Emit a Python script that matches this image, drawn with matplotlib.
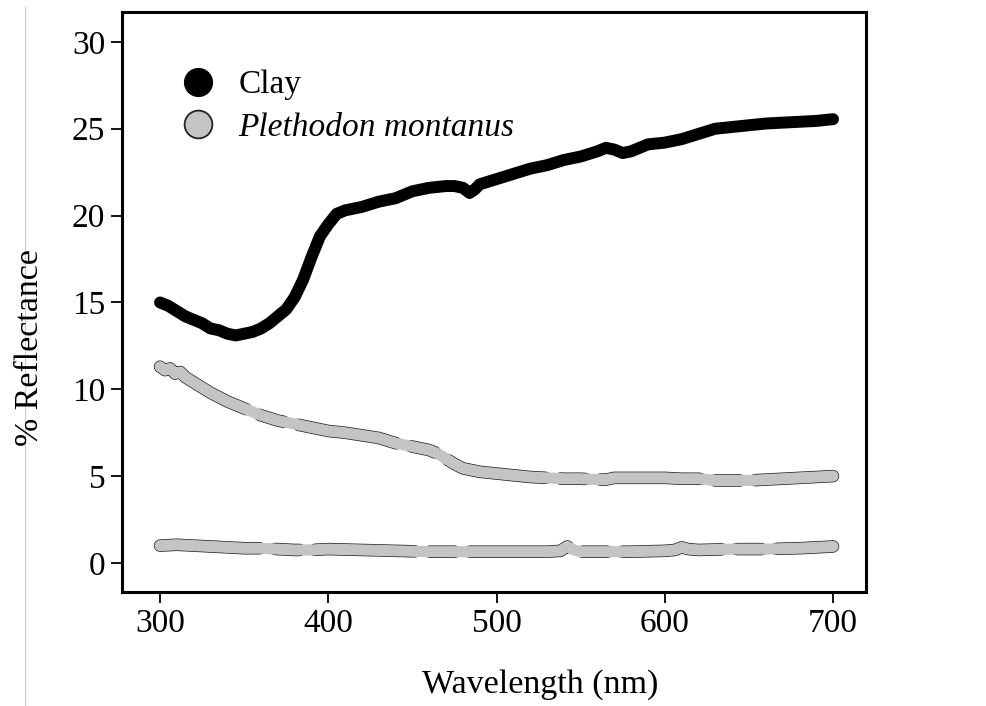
import matplotlib
matplotlib.use("Agg")
import matplotlib.pyplot as plt
from matplotlib.lines import Line2D

plt.rcParams['font.family'] = ['Liberation Serif', 'DejaVu Serif']

clay_nm = [300,305,310,315,320,325,330,335,340,345,350,355,360,365,370,375,380,385,390,395,400,405,410,415,420,430,440,450,460,470,475,480,484,487,490,500,510,520,530,540,550,560,565,570,575,580,590,600,610,620,630,640,650,660,670,680,690,700]
clay = [15.0,14.8,14.5,14.2,14.0,13.8,13.5,13.4,13.2,13.1,13.2,13.3,13.5,13.8,14.2,14.6,15.3,16.3,17.6,18.8,19.5,20.1,20.3,20.4,20.5,20.8,21.0,21.4,21.6,21.7,21.7,21.6,21.3,21.5,21.8,22.1,22.4,22.7,22.9,23.2,23.4,23.7,23.9,23.8,23.6,23.7,24.1,24.2,24.4,24.7,25.0,25.1,25.2,25.3,25.35,25.4,25.45,25.55]

pm1_nm = [300,303,306,309,312,315,320,325,330,340,350,360,370,380,390,400,410,420,430,440,450,455,460,465,470,475,480,490,500,510,520,530,540,550,560,565,570,580,590,600,610,620,630,640,650,660,670,680,690,700]
pm1 = [11.3,11.1,11.2,10.9,11.0,10.7,10.4,10.1,9.8,9.3,8.9,8.5,8.2,8.0,7.8,7.6,7.5,7.35,7.2,6.9,6.7,6.6,6.5,6.3,6.0,5.7,5.45,5.25,5.15,5.05,4.95,4.9,4.85,4.85,4.8,4.8,4.9,4.9,4.9,4.9,4.85,4.85,4.75,4.75,4.75,4.8,4.85,4.9,4.95,5.0]

pm2_nm = [300,310,320,330,340,350,360,370,380,390,400,420,440,460,480,500,520,530,538,542,546,550,560,580,600,606,610,614,620,640,660,680,700]
pm2 = [1.0,1.05,1.0,0.95,0.9,0.85,0.85,0.8,0.75,0.75,0.8,0.75,0.7,0.65,0.65,0.65,0.65,0.65,0.7,0.95,0.75,0.65,0.65,0.65,0.7,0.75,0.9,0.8,0.75,0.8,0.8,0.85,0.95]

legend_labels = ["Clay", "Plethodon montanus"]
x_ticks = [300, 400, 500, 600, 700]
y_ticks = [0, 5, 10, 15, 20, 25, 30]

fig = plt.figure(figsize=(9.87, 7.06), dpi=100)
ax = fig.add_axes([122/987, 1-592/706, (866-122)/987, (592-12)/706])

gray = '#c4c4c4'
ax.plot(clay_nm, clay, color='black', lw=8.6, solid_capstyle='round', solid_joinstyle='round', zorder=3)
for xs, ys in [(pm1_nm, pm1), (pm2_nm, pm2)]:
    ax.plot(xs, ys, color='#1a1a1a', lw=9.0, linestyle=(0, (8, 1.2, 2, 1.2)),
            dash_capstyle='round', solid_capstyle='round', zorder=2)
    ax.plot(xs, ys, color=gray, lw=8.0, solid_capstyle='round', solid_joinstyle='round', zorder=2.5)

ax.set_xlim(277.4, 719.6)
ax.set_ylim(-1.67, 31.72)
ax.set_xticks(x_ticks)
ax.set_yticks(y_ticks)
ax.tick_params(labelsize=24, length=8, width=1.3, direction='out', pad=4)
for s in ax.spines.values():
    s.set_linewidth(2.2)

handles = [
    Line2D([], [], marker='o', ls='none', markersize=20, markerfacecolor='black', markeredgecolor='black'),
    Line2D([], [], marker='o', ls='none', markersize=20, markerfacecolor=gray, markeredgecolor='#222222', markeredgewidth=1.3),
]
leg = ax.legend(handles, legend_labels, loc='upper left', bbox_to_anchor=(0.058, 0.923),
                frameon=False, fontsize=24, handlelength=1.2, handletextpad=0.6,
                labelspacing=0.36, borderaxespad=0)
leg.get_texts()[1].set_style('italic')

fig.text(540/987, 1-685/706, "Wavelength (nm)", ha='center', va='center', fontsize=24.5)
fig.text(30/987, 1-348/706, "% Reflectance", ha='center', va='center', rotation=90, fontsize=24.5)

fig.add_artist(Line2D([25/987, 25/987], [0, 1-7/706], transform=fig.transFigure, color='#cccccc', lw=0.8))

fig.savefig("out.png", dpi=100)
